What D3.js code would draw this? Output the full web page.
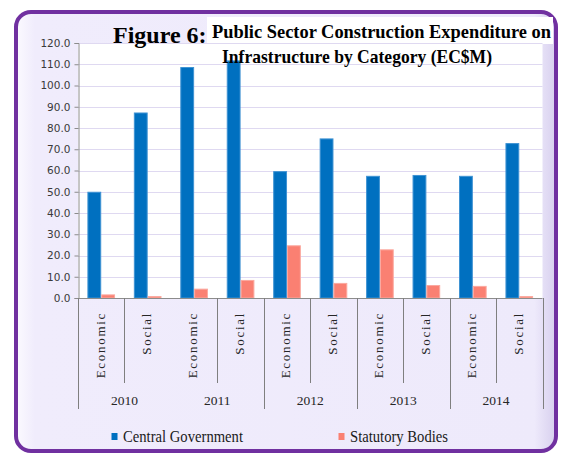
<!DOCTYPE html>
<html>
<head>
<meta charset="utf-8">
<script src="https://cdn.jsdelivr.net/npm/d3@7"></script>
<style>
  html, body { margin: 0; padding: 0; background: #fff; }
  svg { display: block; }
</style>
</head>
<body>
<svg id="vis" width="562" height="454"></svg>
<script>
// values (EC$M)
const years = ['2010', '2011', '2012', '2013', '2014'];
const types = ['Economic', 'Social'];
const centralGov = [50.0, 87.3, 108.7, 111.8, 59.7, 75.1, 57.5, 57.9, 57.5, 72.9];
const statutory = [1.7, 0.9, 4.4, 8.5, 24.8, 7.1, 22.9, 6.1, 5.7, 0.9];
const yTickValues = [0, 10, 20, 30, 40, 50, 60, 70, 80, 90, 100, 110, 120];
const seriesNames = ['Central Government', 'Statutory Bodies'];
const seriesColors = ['#0070C0', '#FA8072'];
const seriesEdges = ['#3F93D3', '#FBA89F'];

const categories = [];
years.forEach(y => types.forEach(t => categories.push({ year: y, type: t })));
const rows = categories.map((c, i) => ({ ...c, key: c.year + '-' + c.type, values: [centralGov[i], statutory[i]] }));

const vis = d3.select('#vis');
const defs = vis.append('defs');

const plot = { left: 78, right: 542.5, top: 43, bottom: 298 };

// frame background gradient
const bg = defs.append('linearGradient').attr('id', 'frameFill').attr('x1', 0).attr('x2', 1).attr('y1', 0).attr('y2', 0);
bg.append('stop').attr('offset', '0%').attr('stop-color', '#FBFAFF');
bg.append('stop').attr('offset', '3.5%').attr('stop-color', '#F0ECFC');
bg.append('stop').attr('offset', '96%').attr('stop-color', '#EEEAFB');
bg.append('stop').attr('offset', '100%').attr('stop-color', '#D7CFEE');

vis.append('rect')
  .attr('x', 16).attr('y', 12)
  .attr('width', 540).attr('height', 439)
  .attr('rx', 15).attr('ry', 15)
  .attr('fill', 'url(#frameFill)')
  .attr('stroke', '#7030A0')
  .attr('stroke-width', 4);

// title box
vis.append('rect')
  .attr('x', 207).attr('y', 17)
  .attr('width', 346).attr('height', 27)
  .attr('fill', '#fff');

// plot area
vis.append('rect')
  .attr('x', plot.left).attr('y', plot.top)
  .attr('width', plot.right - plot.left).attr('height', plot.bottom - plot.top)
  .attr('fill', '#fff');

const x = d3.scaleBand()
  .domain(rows.map(d => d.key))
  .range([plot.left, plot.right])
  .paddingInner(0).paddingOuter(0);

const xSeries = d3.scaleBand()
  .domain(seriesNames)
  .range([0, x.bandwidth()])
  .paddingInner(0).paddingOuter(0.68);

const y = d3.scaleLinear()
  .domain([0, 120])
  .range([plot.bottom, plot.top]);

// gridlines
vis.append('g')
  .selectAll('line')
  .data(yTickValues.filter(v => v > 0))
  .enter()
    .append('line')
    .attr('x1', plot.left).attr('x2', plot.right)
    .attr('y1', d => Math.round(y(d)) + 0.5)
    .attr('y2', d => Math.round(y(d)) + 0.5)
    .attr('stroke', '#DFD9F1')
    .attr('stroke-width', 1);

// bars
const groups = vis.append('g')
  .selectAll('g.cat')
  .data(rows)
  .enter()
    .append('g')
    .classed('cat', true)
    .attr('transform', d => 'translate(' + x(d.key) + ',0)');

groups.selectAll('rect')
  .data(d => d.values.map((v, i) => ({ name: seriesNames[i], value: v, idx: i })))
  .enter()
    .append('rect')
    .attr('x', d => xSeries(d.name) + 0.5)
    .attr('width', xSeries.bandwidth() - 1)
    .attr('y', d => y(d.value) + 0.5)
    .attr('height', d => Math.max(0, y(0) - y(d.value) - 0.5))
    .attr('fill', d => seriesColors[d.idx])
    .attr('stroke', d => seriesEdges[d.idx])
    .attr('stroke-width', 1);

// y axis
const yAxis = vis.append('g')
  .attr('transform', 'translate(' + (plot.left + 0.5) + ',0)')
  .call(d3.axisLeft(y).tickValues(yTickValues).tickSize(4).tickPadding(4).tickFormat(d3.format('.1f')));
yAxis.select('.domain').attr('stroke', '#8C8C8C');
yAxis.selectAll('.tick line').attr('stroke', '#8C8C8C');
yAxis.selectAll('.tick text')
  .attr('fill', '#3A3A3A')
  .style('font-family', '"DejaVu Sans", sans-serif')
  .style('font-size', '10.5px');

// x axis baseline
vis.append('line')
  .attr('x1', plot.left).attr('x2', plot.right)
  .attr('y1', plot.bottom + 0.5).attr('y2', plot.bottom + 0.5)
  .attr('stroke', '#8C8C8C');

// category separators: short inside a year, long at year boundaries
const sepData = rows.map((d, i) => ({ pos: x(d.key), long: i % 2 === 0, skip: i === 2 }))
  .concat([{ pos: plot.right, long: true, skip: false }]);

vis.append('g')
  .selectAll('line')
  .data(sepData.filter(d => !d.skip))
  .enter()
    .append('line')
    .attr('x1', d => Math.round(d.pos) + 0.5)
    .attr('x2', d => Math.round(d.pos) + 0.5)
    .attr('y1', plot.bottom)
    .attr('y2', d => d.long ? 409 : 383)
    .attr('stroke', '#7F7F7F');

// category labels (rotated)
vis.append('g')
  .selectAll('text')
  .data(rows)
  .enter()
    .append('text')
    .attr('transform', d => 'translate(' + (x(d.key) + x.bandwidth() / 2 + 3.3) + ',312) rotate(-90)')
    .attr('text-anchor', 'end')
    .style('font-family', '"Liberation Serif", serif')
    .style('font-size', '13px')
    .style('letter-spacing', '1.7px')
    .attr('fill', '#262626')
    .text(d => d.type);

// year labels
vis.append('g')
  .selectAll('text')
  .data(years)
  .enter()
    .append('text')
    .attr('x', yr => x(yr + '-Economic') + x.bandwidth())
    .attr('y', 405)
    .attr('text-anchor', 'middle')
    .style('font-family', '"Liberation Serif", serif')
    .style('font-size', '13.5px')
    .attr('fill', '#262626')
    .text(yr => yr);

// legend
const legendX = [111.5, 338.5];
const legendW = [120, 98];
const legend = vis.append('g')
  .selectAll('g')
  .data(seriesNames)
  .enter()
    .append('g')
    .attr('transform', (d, i) => 'translate(' + legendX[i] + ',0)');

legend.append('rect')
  .attr('x', 0).attr('y', 433)
  .attr('width', 6).attr('height', 7)
  .attr('fill', (d, i) => seriesColors[i]);

legend.append('text')
  .attr('x', 11.5).attr('y', 441.5)
  .attr('textLength', (d, i) => legendW[i])
  .attr('lengthAdjust', 'spacingAndGlyphs')
  .style('font-family', '"Liberation Serif", serif')
  .style('font-size', '17px')
  .attr('fill', '#1A1A1A')
  .text(d => d);

// title
vis.append('text')
  .attr('x', 113).attr('y', 43)
  .style('font-family', '"Liberation Serif", serif')
  .style('font-size', '24px')
  .style('font-weight', 'bold')
  .attr('fill', '#000')
  .text('Figure 6:');

vis.append('text')
  .attr('x', 212).attr('y', 37.5)
  .attr('textLength', 339)
  .attr('lengthAdjust', 'spacingAndGlyphs')
  .style('font-family', '"Liberation Serif", serif')
  .style('font-size', '19px')
  .style('font-weight', 'bold')
  .attr('fill', '#000')
  .text('Public Sector Construction Expenditure on');

vis.append('text')
  .attr('x', 222).attr('y', 62.5)
  .attr('textLength', 270)
  .attr('lengthAdjust', 'spacingAndGlyphs')
  .style('font-family', '"Liberation Serif", serif')
  .style('font-size', '19px')
  .style('font-weight', 'bold')
  .attr('fill', '#000')
  .text('Infrastructure by Category (EC$M)');
</script>
</body>
</html>
